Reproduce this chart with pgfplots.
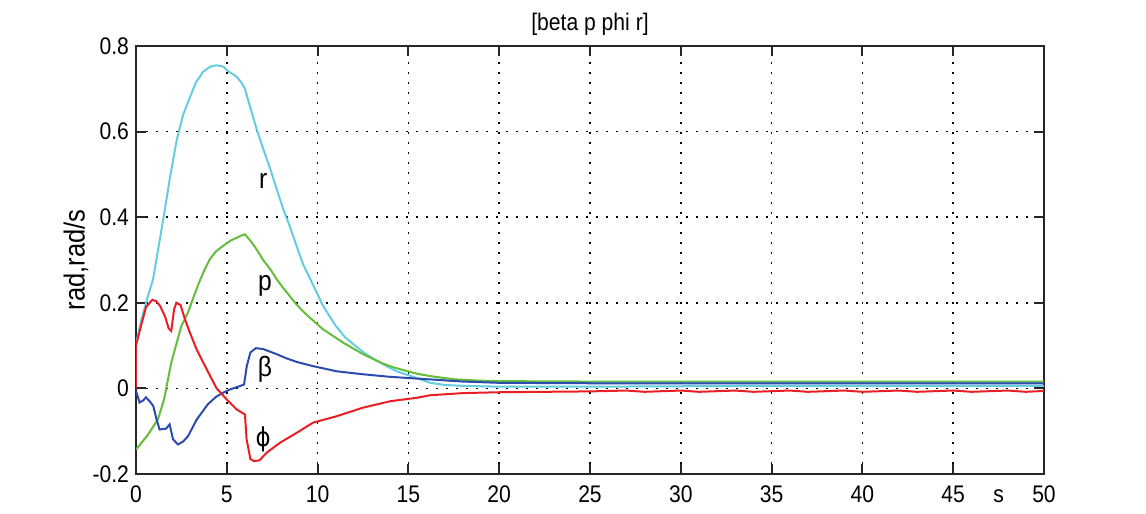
\documentclass[border=0pt]{standalone}
\usepackage{pgfplots}
\pgfplotsset{compat=1.18}
\usepackage{fontspec}
\setmainfont{Liberation Sans}[FakeStretch=0.88]
\newfontfamily\dejavu{DejaVu Sans}[FakeStretch=0.88]
\definecolor{mcyan}{RGB}{100,205,225}
\definecolor{mgreen}{RGB}{100,190,60}
\definecolor{mblue}{RGB}{45,75,175}
\definecolor{mred}{RGB}{235,30,35}
\begin{document}
\begin{tikzpicture}
\path[use as bounding box] (-68pt,-20pt) rectangle (505pt,237pt);
\begin{axis}[
  at={(0,0)}, anchor=south west,
  scale only axis, width=454pt, height=214pt,
  xmin=0, xmax=50, ymin=-0.2, ymax=0.8,
  xtick={0,5,10,15,20,25,30,35,40,45,50},
  xticklabels={0,5,10,15,20,25,30,35,40,45,50},
  ytick={-0.2,0,0.2,0.4,0.6,0.8},
  yticklabels={-0.2,0,0.2,0.4,0.6,0.8},
  tick align=inside, tick pos=both,
  xticklabel pos=left, yticklabel pos=left,
  major tick length=5pt,
  grid=major,
  grid style={black, line width=0.8pt, dash pattern=on 0.8pt off 4.2pt},
  axis line style={line width=1pt, black!85},
  every tick/.style={line width=1pt, black!85},
  ticklabel style={font=\fontsize{12}{14}\selectfont},
  x tick label style={yshift=-2.5pt},
  /pgf/number format/assume math mode=true,
  title={[beta p phi r]},
  title style={font=\fontsize{12}{14}\selectfont, at={(axis description cs:0.5,1)}, anchor=south, yshift=-4.5pt},
  ylabel={rad,rad/s},
  ylabel style={font=\fontsize{14.5}{16}\selectfont, at={(axis description cs:-0.066,0.5)}, anchor=center},
  xlabel={\vphantom{0}s},
  xlabel style={font=\fontsize{12}{14}\selectfont, at={(axis description cs:0.95,0)}, anchor=north, yshift=-2.5pt},
  clip=true,
]
% r
\addplot[mcyan, line width=1pt] coordinates {
(0,0.103)(0.29,0.16)(0.66,0.216)(0.94,0.255)(1.2,0.32)(1.5,0.395)(1.9,0.50)(2.24,0.58)(2.6,0.64)(2.97,0.68)(3.3,0.715)(3.7,0.74)(4.1,0.752)(4.44,0.755)(4.8,0.752)(5.1,0.74)(5.5,0.73)(5.8,0.715)(6.0,0.70)(6.3,0.655)(6.64,0.606)(7.0,0.56)(7.4,0.512)(7.75,0.465)(8.1,0.42)(8.5,0.375)(8.84,0.333)(9.2,0.29)(9.6,0.255)(10.3,0.193)(11.0,0.146)(11.5,0.12)(12.1,0.099)(12.6,0.082)(13.2,0.066)(13.8,0.052)(14.35,0.04)(15.4,0.025)(16.2,0.013)(17,0.008)(18,0.006)(20,0.004)(25,0.004)(30,0.005)(35,0.006)(40,0.006)(45,0.006)(50,0.006)
};
% p
\addplot[mgreen, line width=1pt] coordinates {
(0,-0.143)(0.66,-0.108)(1.21,-0.072)(1.55,-0.025)(1.94,0.06)(2.5,0.146)(2.86,0.177)(3.1,0.205)(3.43,0.243)(3.75,0.275)(4.07,0.302)(4.4,0.32)(4.8,0.333)(5.2,0.345)(5.54,0.352)(5.8,0.357)(6.0,0.36)(6.3,0.345)(6.64,0.325)(7.0,0.30)(7.4,0.278)(7.75,0.255)(8.1,0.235)(8.5,0.214)(8.84,0.196)(9.2,0.18)(9.58,0.165)(10.3,0.138)(11.4,0.107)(12.5,0.08)(13.6,0.058)(14.2,0.049)(14.7,0.043)(15.5,0.034)(16.3,0.028)(17.6,0.021)(19,0.018)(20,0.017)(25,0.016)(30,0.016)(35,0.016)(40,0.016)(45,0.016)(50,0.016)
};
% beta
\addplot[mblue, line width=1pt] coordinates {
(0,-0.006)(0.2,-0.033)(0.4,-0.028)(0.55,-0.021)(0.75,-0.03)(0.95,-0.041)(1.15,-0.075)(1.3,-0.096)(1.66,-0.094)(1.85,-0.084)(2.04,-0.119)(2.31,-0.131)(2.6,-0.124)(2.86,-0.112)(3.34,-0.073)(3.96,-0.037)(4.4,-0.02)(4.8,-0.01)(5.2,-0.002)(5.7,0.005)(5.95,0.009)(6.1,0.052)(6.3,0.084)(6.6,0.094)(7.0,0.092)(7.74,0.08)(8.3,0.07)(8.84,0.062)(9.75,0.052)(11.05,0.04)(12.5,0.033)(14.0,0.027)(15.45,0.023)(16.2,0.021)(18,0.016)(20,0.013)(25,0.012)(30,0.012)(40,0.012)(50,0.012)
};
% phi
\addplot[mred, line width=1pt] coordinates {
(0,0)(0,0.1)(0.3,0.15)(0.55,0.19)(0.9,0.207)(1.1,0.204)(1.32,0.193)(1.6,0.168)(1.8,0.14)(1.94,0.134)(2.1,0.185)(2.22,0.2)(2.45,0.195)(2.7,0.161)(2.97,0.13)(3.34,0.091)(3.9,0.044)(4.44,0.0)(5.0,-0.026)(5.54,-0.049)(6.0,-0.061)(6.09,-0.119)(6.3,-0.165)(6.5,-0.17)(6.8,-0.168)(7.2,-0.15)(7.93,-0.127)(8.84,-0.104)(9.75,-0.08)(11.05,-0.065)(12.5,-0.045)(14.0,-0.03)(15.45,-0.022)(16.2,-0.016)(18,-0.011)(20,-0.009)(25,-0.007)(27,-0.005)(28,-0.008)(30,-0.005)(31,-0.008)(33,-0.005)(34,-0.008)(36,-0.005)(37,-0.008)(39,-0.005)(40,-0.008)(42,-0.005)(43,-0.008)(45,-0.005)(46,-0.008)(48,-0.005)(49,-0.008)(50,-0.006)
};
\node[font=\fontsize{14}{16}\selectfont] at (axis cs:7.0,0.484) {r};
\node[font=\fontsize{14}{16}\selectfont] at (axis cs:7.1,0.239) {p};
\node[font=\fontsize{14}{16}\selectfont] at (axis cs:7.1,0.044) {β};
\node[font=\dejavu\fontsize{13}{15}\selectfont] at (axis cs:7.0,-0.119) {ϕ};
\end{axis}
\end{tikzpicture}
\end{document}
